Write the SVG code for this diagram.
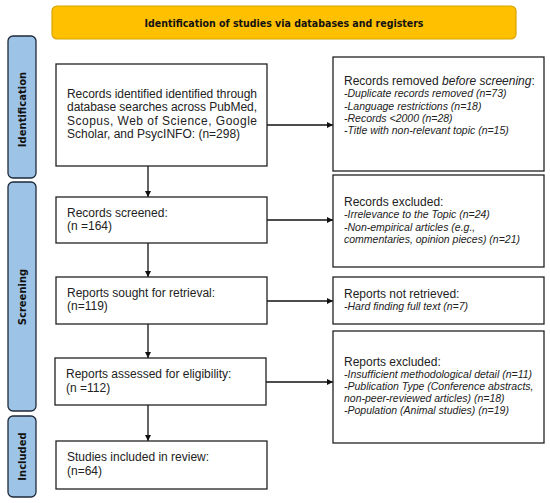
<svg xmlns="http://www.w3.org/2000/svg" width="550" height="503" viewBox="0 0 550 503">
<defs>
<marker id="ah" viewBox="0 0 10 10" refX="10" refY="5" markerWidth="6" markerHeight="6" markerUnits="userSpaceOnUse" orient="auto">
<path d="M0,0 L10,5 L0,10 z" fill="#111"/>
</marker>
<style>
.box{fill:#fff;stroke:#222;stroke-width:1.3}
.side{fill:#9DC3E6;stroke:#1F2A3A;stroke-width:1.3}
.t{font-family:"Liberation Sans",Arial,sans-serif;font-size:12px;fill:#222}
.i{font-family:"Liberation Sans",Arial,sans-serif;font-size:10.5px;font-style:italic;fill:#222}
.sl{font-family:"DejaVu Sans",Verdana,sans-serif;font-size:10px;font-weight:bold;fill:#111}
.c{stroke:#111;stroke-width:1.3;fill:none}
</style>
</defs>
<rect width="550" height="503" fill="#fff"/>
<g id="title">
<rect x="52" y="6" width="464" height="33" rx="5" fill="#FFC000" stroke="#D9A400" stroke-width="1.2"/>
<text x="284" y="27" text-anchor="middle" class="sl" font-size="10.5" textLength="279" lengthAdjust="spacingAndGlyphs">Identification of studies via databases and registers</text>
</g>
<g id="side-identification">
<rect class="side" x="8" y="36" width="28" height="142" rx="5"/>
<text class="sl" transform="translate(25.5,109.5) rotate(-90)" text-anchor="middle">Identification</text>
</g>
<g id="side-screening">
<rect class="side" x="8" y="182" width="28" height="229" rx="5"/>
<text class="sl" transform="translate(25.5,297) rotate(-90)" text-anchor="middle">Screening</text>
</g>
<g id="side-included">
<rect class="side" x="8" y="416" width="28" height="81" rx="5"/>
<text class="sl" transform="translate(25.5,456.5) rotate(-90)" text-anchor="middle">Included</text>
</g>
<g id="connectors">
<line class="c" x1="148" y1="166" x2="148" y2="197" marker-end="url(#ah)"/>
<line class="c" x1="148" y1="243" x2="148" y2="277" marker-end="url(#ah)"/>
<line class="c" x1="148" y1="324" x2="148" y2="358" marker-end="url(#ah)"/>
<line class="c" x1="148" y1="405" x2="148" y2="441" marker-end="url(#ah)"/>
<line class="c" x1="267" y1="125" x2="333" y2="125" marker-end="url(#ah)"/>
<line class="c" x1="267" y1="220" x2="333" y2="220" marker-end="url(#ah)"/>
<line class="c" x1="267" y1="301" x2="333" y2="301" marker-end="url(#ah)"/>
<line class="c" x1="266" y1="382" x2="333" y2="382" marker-end="url(#ah)"/>
</g>
<g id="identified">
<rect class="box" x="56" y="64" width="211" height="102"/>
<text class="t" x="67" y="98" textLength="190" lengthAdjust="spacing">Records identified identified through</text>
<text class="t" x="67" y="111" textLength="190" lengthAdjust="spacing">database searches across PubMed,</text>
<text class="t" x="67" y="124.5" textLength="190" lengthAdjust="spacing">Scopus, Web of Science, Google</text>
<text class="t" x="67" y="137.5">Scholar, and PsycINFO: (n=298)</text>
</g>
<g id="screened">
<rect class="box" x="56" y="197" width="211" height="46"/>
<text class="t" x="67" y="217">Records screened:</text>
<text class="t" x="67" y="230">(n =164)</text>
</g>
<g id="sought">
<rect class="box" x="56" y="277" width="211" height="47"/>
<text class="t" x="67" y="297">Reports sought for retrieval:</text>
<text class="t" x="67" y="310">(n=119)</text>
</g>
<g id="assessed">
<rect class="box" x="55" y="358" width="211" height="47"/>
<text class="t" x="66" y="378">Reports assessed for eligibility:</text>
<text class="t" x="66" y="392">(n =112)</text>
</g>
<g id="included">
<rect class="box" x="56" y="441" width="211" height="48"/>
<text class="t" x="67" y="461">Studies included in review:</text>
<text class="t" x="67" y="475">(n=64)</text>
</g>
<g id="removed">
<rect class="box" x="333" y="57" width="211" height="114"/>
<text class="t" x="344" y="85">Records removed <tspan font-style="italic">before screening</tspan>:</text>
<text class="i" x="344" y="97">-Duplicate records removed (n=73)</text>
<text class="i" x="344" y="109.5">-Language restrictions (n=18)</text>
<text class="i" x="344" y="121.5">-Records &lt;2000 (n=28)</text>
<text class="i" x="344" y="133.5">-Title with non-relevant topic (n=15)</text>
</g>
<g id="excluded1">
<rect class="box" x="333" y="175" width="211" height="92"/>
<text class="t" x="344" y="206">Records excluded:</text>
<text class="i" x="344" y="218">-Irrelevance to the Topic (n=24)</text>
<text class="i" x="344" y="231">-Non-empirical articles (e.g.,</text>
<text class="i" x="344" y="243">commentaries, opinion pieces) (n=21)</text>
</g>
<g id="notretrieved">
<rect class="box" x="333" y="277" width="211" height="47"/>
<text class="t" x="344" y="298">Reports not retrieved:</text>
<text class="i" x="344" y="310">-Hard finding full text (n=7)</text>
</g>
<g id="excluded2">
<rect class="box" x="333" y="331" width="211" height="112"/>
<text class="t" x="344" y="366">Reports excluded:</text>
<text class="i" x="344" y="377.5">-Insufficient methodological detail (n=11)</text>
<text class="i" x="344" y="390">-Publication Type (Conference abstracts,</text>
<text class="i" x="344" y="402">non-peer-reviewed articles) (n=18)</text>
<text class="i" x="344" y="413.5">-Population (Animal studies) (n=19)</text>
</g>
</svg>
